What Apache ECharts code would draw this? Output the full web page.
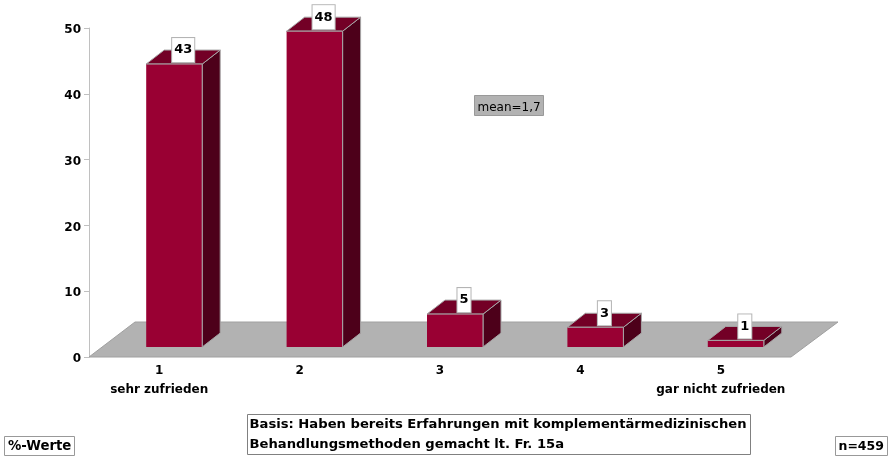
<!DOCTYPE html>
<html><head><meta charset="utf-8">
<style>html,body{margin:0;padding:0;background:#fff}#c{width:889px;height:458px}</style>
<script src="https://cdn.jsdelivr.net/npm/echarts@6/dist/echarts.min.js"></script>
</head><body><div id="c"></div>
<script>
const categories = ['1\nsehr zufrieden', '2', '3', '4', '5\ngar nicht zufrieden'];
const values = [43, 48, 5, 3, 1];
const yTicks = { min: 0, max: 50, interval: 10 };
const meanNote = 'mean=1,7';
const unitNote = '%-Werte';
const baseNote = 'Basis: Haben bereits Erfahrungen mit komplementärmedizinischen\nBehandlungsmethoden gemacht lt. Fr. 15a';
const nNote = 'n=459';

const FONT = '"DejaVu Sans", sans-serif';
const EDGE = '#a6a6a6';
const chart = echarts.init(document.getElementById('c'), null, { renderer: 'canvas' });

function poly(points, fill, stroke) {
  return { type: 'polygon', shape: { points }, style: { fill, stroke: stroke || EDGE, lineWidth: 1 } };
}
function noteBox(x, y, w, h, text, opts) {
  opts = opts || {};
  return [
    { type: 'rect', x, y, shape: { width: w, height: h },
      style: { fill: opts.fill || '#fff', stroke: opts.stroke || '#999', lineWidth: 1 } },
    { type: 'text', x: x + (opts.pad || 5), y: y + h / 2 + (opts.dy || 0),
      style: { text, font: (opts.weight || 'bold') + ' ' + (opts.size || 12) + 'px ' + FONT,
        fill: '#000', verticalAlign: 'middle', lineHeight: opts.lh || 20 } }
  ];
}

chart.setOption({
  animation: false,
  backgroundColor: '#fff',
  grid: { left: 89, right: 98, top: 28, bottom: 101, containLabel: false },
  xAxis: {
    type: 'category', data: categories,
    axisLine: { show: false }, axisTick: { show: false },
    axisLabel: { color: '#000', fontFamily: FONT, fontWeight: 'bold', fontSize: 12, lineHeight: 19, margin: 4, interval: 0 }
  },
  yAxis: {
    type: 'value', min: yTicks.min, max: yTicks.max, interval: yTicks.interval,
    splitLine: { show: false },
    axisLine: { show: true, lineStyle: { color: '#c0c0c0', width: 1 } },
    axisTick: { show: true, length: 5, lineStyle: { color: '#c0c0c0' } },
    axisLabel: { color: '#000', fontFamily: FONT, fontWeight: 'bold', fontSize: 12, margin: 8, verticalAlign: 'top', lineHeight: 4 }
  },
  series: [
    {
      type: 'custom', z: 1, silent: true, clip: false,
      data: [[0, 0]],
      renderItem(params) {
        const c = params.coordSys;
        const l = c.x, r = c.x + c.width, b = c.y + c.height;
        return poly([[l, b], [r, b], [r + 47, b - 35], [l + 46, b - 35]], '#b2b2b2', '#a0a0a0');
      }
    },
    {
      type: 'custom', z: 2, clip: false,
      data: values.map((v, i) => [i, v]),
      encode: { x: 0, y: 1 },
      renderItem(params, api) {
        const v = api.value(1);
        const cx = api.coord([api.value(0), 0])[0] + 15;
        const y0 = api.coord([0, 0])[1];
        const h = y0 - api.coord([0, v])[1];
        const w = 56, dx = 18, dy = 14, lift = 10;
        const l = cx - w / 2, r = cx + w / 2, bot = y0 - lift, top = bot - h;
        return {
          type: 'group',
          children: [
            poly([[r, top], [r + dx, top - dy], [r + dx, bot - dy], [r, bot]], '#4d001a'),
            poly([[l, top], [l + dx, top - dy], [r + dx, top - dy], [r, top]], '#730026'),
            { type: 'rect', shape: { x: l, y: top, width: w, height: h },
              style: { fill: '#990033', stroke: null } },
            { type: 'polyline', shape: { points: [[l, top], [r, top], [r, bot]] },
              style: { fill: null, stroke: EDGE, lineWidth: 1 } },
            { type: 'text', x: cx + 9, y: top - 2,
              style: { text: String(v), font: 'bold 13px ' + FONT, fill: '#000', align: 'center', verticalAlign: 'bottom',
                backgroundColor: '#fff', borderColor: '#b4b4b4', borderWidth: 1, padding: [5, 2, 5, 2], lineHeight: 14 } }
          ]
        };
      }
    }
  ],
  graphic: { elements: [
    ...noteBox(474.5, 95.5, 69, 20, meanNote, { fill: '#b2b2b2', stroke: '#999', weight: 'normal', pad: 3, dy: 2 }),
    ...noteBox(4.5, 436.5, 70, 19, unitNote, { pad: 3.5, size: 13.3, dy: 1 }),
    ...noteBox(247.5, 414.5, 503, 40, baseNote, { pad: 2, size: 13.15, stroke: '#808080' }),
    ...noteBox(835.5, 436.5, 52, 19, nNote, { pad: 3, size: 12.5, dy: 1 })
  ] }
});
</script></body></html>
